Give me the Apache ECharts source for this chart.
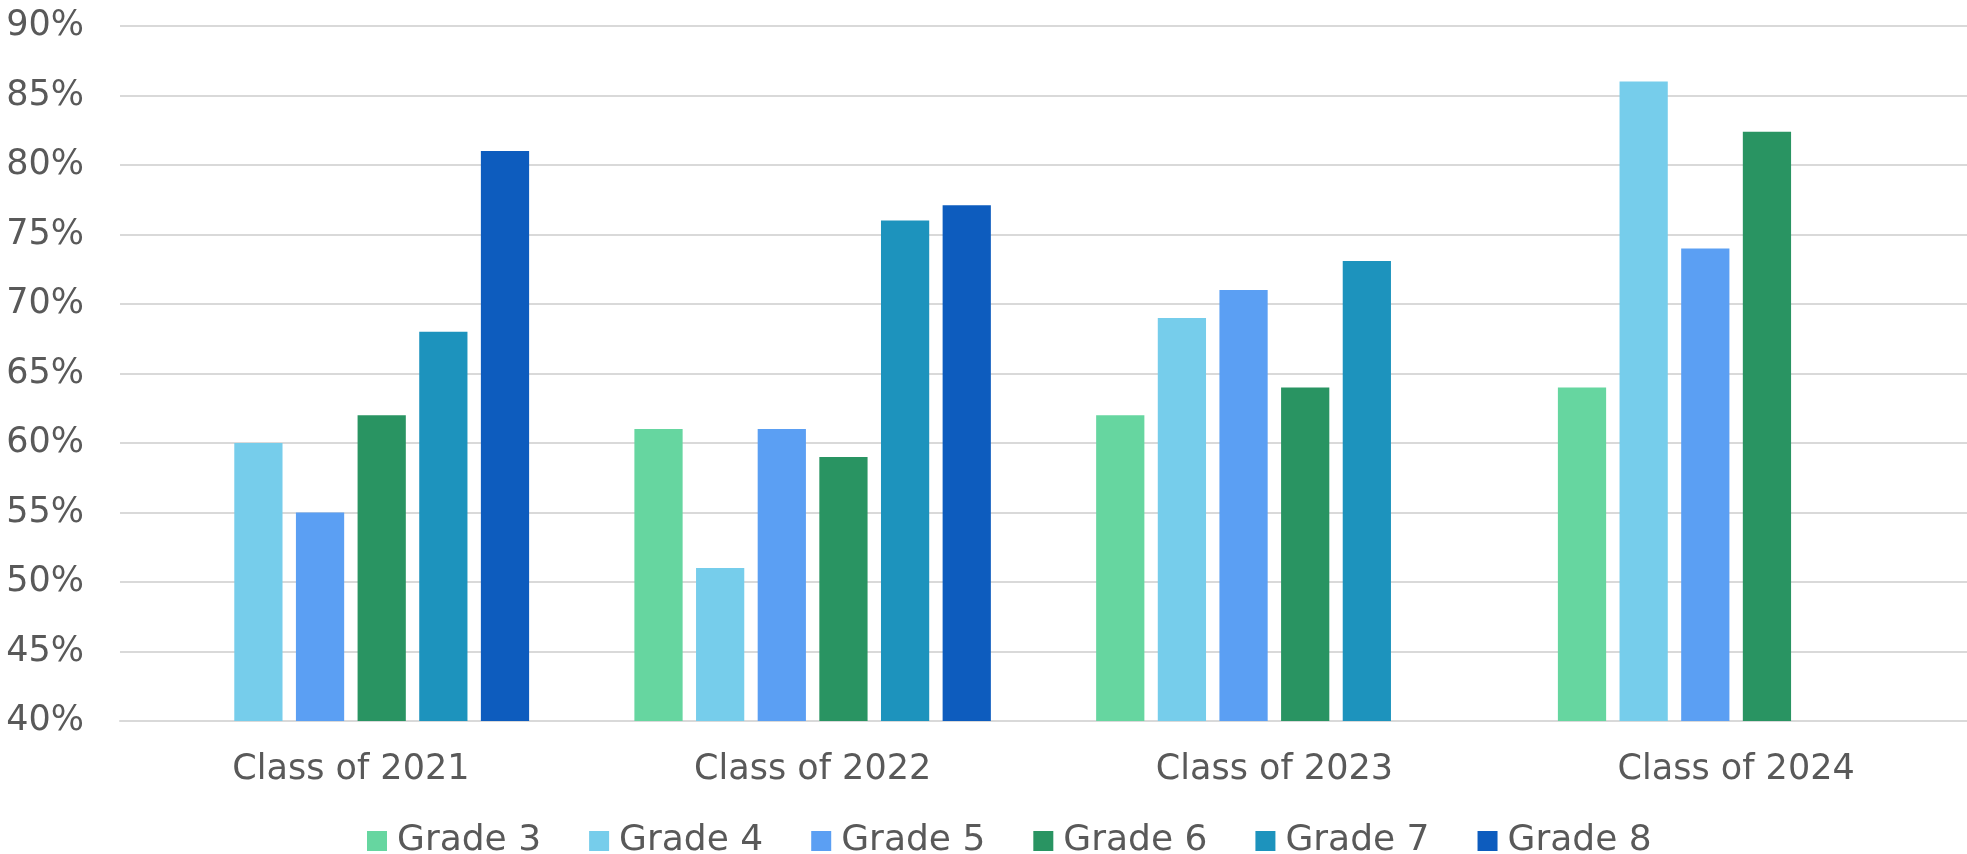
<!DOCTYPE html>
<html>
<head>
<meta charset="utf-8">
<script src="https://cdn.jsdelivr.net/npm/echarts@6/dist/echarts.min.js"></script>
<style>
html,body{margin:0;padding:0;background:#fff;}
#c{width:1967px;height:854px;}
</style>
</head>
<body>
<div id="c"></div>
<script>
const categories = ['Class of 2021', 'Class of 2022', 'Class of 2023', 'Class of 2024'];
const seriesNames = ['Grade 3', 'Grade 4', 'Grade 5', 'Grade 6', 'Grade 7', 'Grade 8'];
const grade3 = [null, 61, 62, 64];
const grade4 = [60, 51, 69, 86];
const grade5 = [55, 61, 71, 74];
const grade6 = [62, 59, 64, 82.4];
const grade7 = [68, 76, 73.1, null];
const grade8 = [81, 77.1, null, null];
const colors = ['#66D6A0', '#76CDEB', '#5B9FF3', '#299462', '#1D93BD', '#0D5CBE'];

const allData = [grade3, grade4, grade5, grade6, grade7, grade8];
const FONT = '"DejaVu Sans", sans-serif';
const TXT = '#595959';

const chart = echarts.init(document.getElementById('c'));
chart.setOption({
  animation: false,
  color: colors,
  grid: { left: 120, top: 26, width: 1858, height: 695, containLabel: false },
  legend: {
    data: seriesNames,
    left: 362,
    top: 818,
    icon: 'rect',
    itemWidth: 20,
    itemHeight: 20,
    itemGap: 48,
    formatter: function (name) { return '{t|' + name + '}'; },
    textStyle: {
      color: TXT, fontSize: 36, fontFamily: FONT,
      rich: { t: { color: TXT, fontSize: 36, fontFamily: FONT, padding: [0, 0, 0, 5] } }
    }
  },
  xAxis: {
    type: 'category',
    data: categories,
    axisLine: { show: true, lineStyle: { color: '#D9D9D9', width: 2 } },
    axisTick: { show: false },
    axisLabel: { color: TXT, fontSize: 35, fontFamily: FONT, margin: 31 }
  },
  yAxis: {
    type: 'value',
    min: 40, max: 90, interval: 5,
    axisLine: { show: false },
    axisTick: { show: false },
    splitLine: { lineStyle: { color: '#D9D9D9', width: 2 } },
    axisLabel: { color: TXT, fontSize: 35, fontFamily: FONT, margin: 36, formatter: '{value}%' }
  },
  series: seriesNames.map((n, i) => ({
    name: n,
    type: 'bar',
    data: allData[i],
    barGap: '27.8%',
    barCategoryGap: '22.8%',
    itemStyle: { color: colors[i] }
  }))
});
</script>
</body>
</html>
